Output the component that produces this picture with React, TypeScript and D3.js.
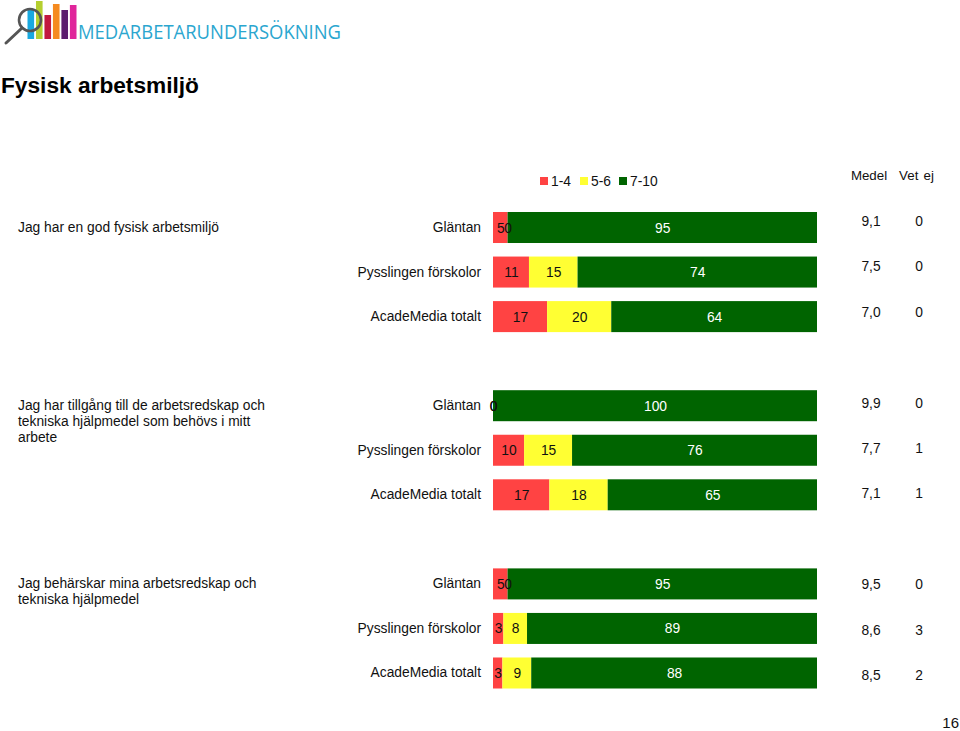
import * as d3 from 'd3';

const groupLabels = [
  ['Jag har en god fysisk arbetsmiljö'],
  ['Jag har tillgång till de arbetsredskap och', 'tekniska hjälpmedel som behövs i mitt', 'arbete'],
  ['Jag behärskar mina arbetsredskap och', 'tekniska hjälpmedel'],
];
const units = ['Gläntan', 'Pysslingen förskolor', 'AcadeMedia totalt'];
const seriesNames = ['1-4', '5-6', '7-10'];
const seriesColors = ['#FF4343', '#FFFF33', '#006400'];

// bar lengths, printed labels are the rounded ones
const low = [4.5, 11.1, 16.7, 0, 9.6, 17.4, 4.5, 3.2, 2.9];
const mid = [0, 15, 19.8, 0, 14.8, 18, 0, 7.3, 8.9];
const high = [95.5, 73.9, 63.5, 100, 75.6, 64.6, 95.5, 89.5, 88.2];
const lowLabels = [5, 11, 17, 0, 10, 17, 5, 3, 3];
const midLabels = [0, 15, 20, 0, 15, 18, 0, 8, 9];
const highLabels = [95, 74, 64, 100, 76, 65, 95, 89, 88];
const medel = ['9,1', '7,5', '7,0', '9,9', '7,7', '7,1', '9,5', '8,6', '8,5'];
const vetEj = [0, 0, 0, 0, 1, 1, 0, 3, 2];

const logoKeys = ['a', 'b', 'c', 'd', 'e', 'f'];
const logoHeights = [30, 38, 24, 35, 29, 34];
const logoColors = ['#19A9E0', '#B5CF2F', '#C2183F', '#F58A1F', '#5B1A6E', '#E0259B'];

const font = '"Liberation Sans", Arial, sans-serif';
const textColor = '#111';
const fontSize = 13.8;

const rowKeys = ['0', '1', '2', 'gap1', '3', '4', '5', 'gap2', '6', '7', '8'];
const dataKeys = rowKeys.filter((k) => !k.startsWith('gap'));

const x = d3.scaleLinear().domain([0, 100]).range([493, 817]);
const y = d3.scaleBand().domain(rowKeys).range([212, 688.5]).paddingInner(0.304);
const yCenter = (i: number) => y(String(i))! + y.bandwidth() / 2;
// the Medel / Vet ej columns drift slightly against the bars in the original
const yRight = d3.scaleLinear().domain([0, 10]).range([221, 675]);

const logoX = d3.scaleBand().domain(logoKeys).range([27.5, 76.5]).paddingInner(0.22);
const logoY = d3.scaleLinear().domain([0, 38]).range([39, 1]);

const legendX = [540, 580, 619];

export default function App() {
  const stacked = dataKeys.map((_, i) => {
    const parts = [low[i], mid[i], high[i]];
    const ends = d3.cumsum(parts);
    return parts.map((v, j) => ({ start: ends[j] - v, end: ends[j] }));
  });
  const labels = [lowLabels, midLabels, highLabels];

  return (
    <svg
      width={960}
      height={731}
      viewBox="0 0 960 731"
      style={{ position: 'absolute', left: 0, top: 0, display: 'block', background: '#fff' }}
      fontFamily={font}
      fill={textColor}
    >
      {/* logo */}
      <g>
        {logoKeys.map((k, i) => (
          <rect
            key={k}
            x={logoX(k)}
            y={logoY(logoHeights[i])}
            width={logoX.bandwidth()}
            height={logoY(0) - logoY(logoHeights[i])}
            fill={logoColors[i]}
          />
        ))}
        <circle cx={30} cy={20} r={11} fill="none" stroke="#555" strokeWidth={2.6} />
        <line x1={22} y1={28} x2={6} y2={43} stroke="#555" strokeWidth={3} strokeLinecap="round" />
        <text
          x={78}
          y={39}
          fontFamily='"Open Sans", sans-serif'
          fontSize={20.5}
          fill="#2BA6CF"
          textLength={263}
          lengthAdjust="spacingAndGlyphs"
        >
          MEDARBETARUNDERSÖKNING
        </text>
      </g>

      <text x={1} y={92.5} fontSize={22.7} fontWeight="bold" fill="#000">
        Fysisk arbetsmiljö
      </text>

      {/* legend */}
      {seriesNames.map((name, i) => (
        <g key={name}>
          <rect x={legendX[i]} y={177} width={8} height={8} fill={seriesColors[i]} />
          <text x={legendX[i] + 11} y={186} fontSize={fontSize}>
            {name}
          </text>
        </g>
      ))}
      <text x={869} y={180} fontSize={13.3} textAnchor="middle">
        Medel
      </text>
      <text x={916.5} y={180} fontSize={13.3} wordSpacing={1.5} textAnchor="middle">
        Vet ej
      </text>

      {/* question texts */}
      {groupLabels.map((lines, g) => (
        <text key={g} fontSize={fontSize}>
          {lines.map((line, l) => (
            <tspan key={l} x={18} y={yCenter(g * 3) + 4 + l * 16}>
              {line}
            </tspan>
          ))}
        </text>
      ))}

      {/* rows */}
      {dataKeys.map((key, i) => (
        <g key={key}>
          <text x={481} y={yCenter(i) + 4.5} fontSize={fontSize} textAnchor="end">
            {units[i % 3]}
          </text>
          {stacked[i].map((seg, s) => (
            <rect
              key={s}
              x={x(seg.start)}
              y={y(key)}
              width={x(seg.end) - x(seg.start)}
              height={y.bandwidth()}
              fill={seriesColors[s]}
            />
          ))}
          {stacked[i].map((seg, s) => (
            <text
              key={s}
              x={(x(seg.start) + x(seg.end)) / 2 + 0.5}
              y={yCenter(i) + 5}
              fontSize={fontSize}
              textAnchor="middle"
              fill={s === 2 ? '#fff' : textColor}
            >
              {labels[s][i]}
            </text>
          ))}
          <text x={871} y={yRight(rowKeys.indexOf(key)) + 5} fontSize={fontSize} textAnchor="middle">
            {medel[i]}
          </text>
          <text x={919} y={yRight(rowKeys.indexOf(key)) + 5} fontSize={fontSize} textAnchor="middle">
            {vetEj[i]}
          </text>
        </g>
      ))}

      <text x={959} y={727.5} fontSize={15} textAnchor="end">
        16
      </text>
    </svg>
  );
}
